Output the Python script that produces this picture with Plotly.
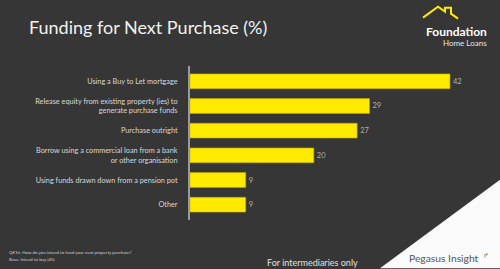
import plotly.graph_objects as go

categories = [
    "Using a Buy to Let mortgage",
    "Release equity from existing property (ies) to<br>generate purchase funds",
    "Purchase outright",
    "Borrow using a commercial loan from a bank<br>or other organisation",
    "Using funds drawn down from a pension pot",
    "Other",
]
values = [42, 29, 27, 20, 9, 9]
value_labels = [str(v) for v in values]

W, H = 500, 269
L, R, T, B = 190, 0, 65.6, 48.6
PW, PH = W - L - R, H - T - B
BG = "#363636"
YEL = "#FFEA00"
FONT = "Lato"

def px(x):
    return (x - L) / PW

def py(y):
    return (H - B - y) / PH

fig = go.Figure()
fig.add_trace(go.Bar(
    x=values, y=list(range(len(categories))), orientation="h",
    width=0.6,
    marker=dict(color=YEL, line=dict(color="#b8a800", width=0.6)),
    text=value_labels, textposition="outside", cliponaxis=False,
    textfont=dict(color="#b0b0b0", size=7.5, family=FONT),
    hoverinfo="skip",
))

shapes = [
    # white corner triangle
    dict(type="path", xref="paper", yref="paper",
         path=f"M {px(500)},{py(180)} L {px(500)},{py(269)} L {px(380)},{py(269)} Z",
         fillcolor="#fafafa", line=dict(width=0), layer="below"),
    # logo roof
    dict(type="path", xref="paper", yref="paper",
         path=(f"M {px(423)},{py(17)} L {px(438)},{py(6)} L {px(445)},{py(11)} "
               f"L {px(445)},{py(7)} L {px(451)},{py(7)} L {px(451)},{py(13)} L {px(458)},{py(18)}"),
         line=dict(color=YEL, width=2)),
]

annotations = [
    dict(text="Funding for Next Purchase (%)", x=px(27), y=py(26), xanchor="left", yanchor="middle",
         font=dict(size=18, color="#f2f2f2", family=FONT)),
    dict(text="<b>Foundation</b>", x=px(489), y=py(30.5), xanchor="right", yanchor="middle",
         font=dict(size=12, color="#ffffff", family=FONT)),
    dict(text="Home Loans", x=px(489), y=py(42), xanchor="right", yanchor="middle",
         font=dict(size=8, color="#e6e6e6", family=FONT)),
    dict(text="QE1h: How do you intend to fund your next property purchase?",
         x=px(7), y=py(253.5), xanchor="left", yanchor="middle", align="left",
         font=dict(size=4.4, color="#d0d0d0", family=FONT)),
    dict(text="Base: Intend to buy (45)",
         x=px(7), y=py(260.5), xanchor="left", yanchor="middle", align="left",
         font=dict(size=4.4, color="#d0d0d0", family=FONT)),
    dict(text="For intermediaries only", x=px(265), y=py(263), xanchor="left", yanchor="middle",
         font=dict(size=9, color="#e0e0e0", family=FONT)),
    dict(text="Pegasus Insight", x=px(407), y=py(259), xanchor="left", yanchor="middle",
         font=dict(size=10.3, color="#555555", family=FONT)),
    dict(text="↱", x=px(481), y=py(256), xanchor="left", yanchor="middle",
         font=dict(size=7, color="#777777", family=FONT)),
]
for a in annotations:
    a.update(xref="paper", yref="paper", showarrow=False)

fig.update_layout(
    width=W, height=H,
    margin=dict(l=L, r=R, t=T, b=B, pad=0),
    paper_bgcolor=BG, plot_bgcolor="rgba(0,0,0,0)",
    showlegend=False,
    shapes=shapes, annotations=annotations,
    xaxis=dict(range=[0, PW / 6.19], visible=False, fixedrange=True),
    yaxis=dict(range=[5.62, -0.62], tickmode="array", tickvals=list(range(len(categories))),
               ticktext=categories, showgrid=False, zeroline=False,
               showline=True, linecolor="#9a9a9a", linewidth=2,
               ticks="", ticklabelstandoff=9,
               tickfont=dict(size=7.3, color="#d8d8d8", family=FONT)),
    font=dict(family=FONT),
)

fig.write_html("out.html")
